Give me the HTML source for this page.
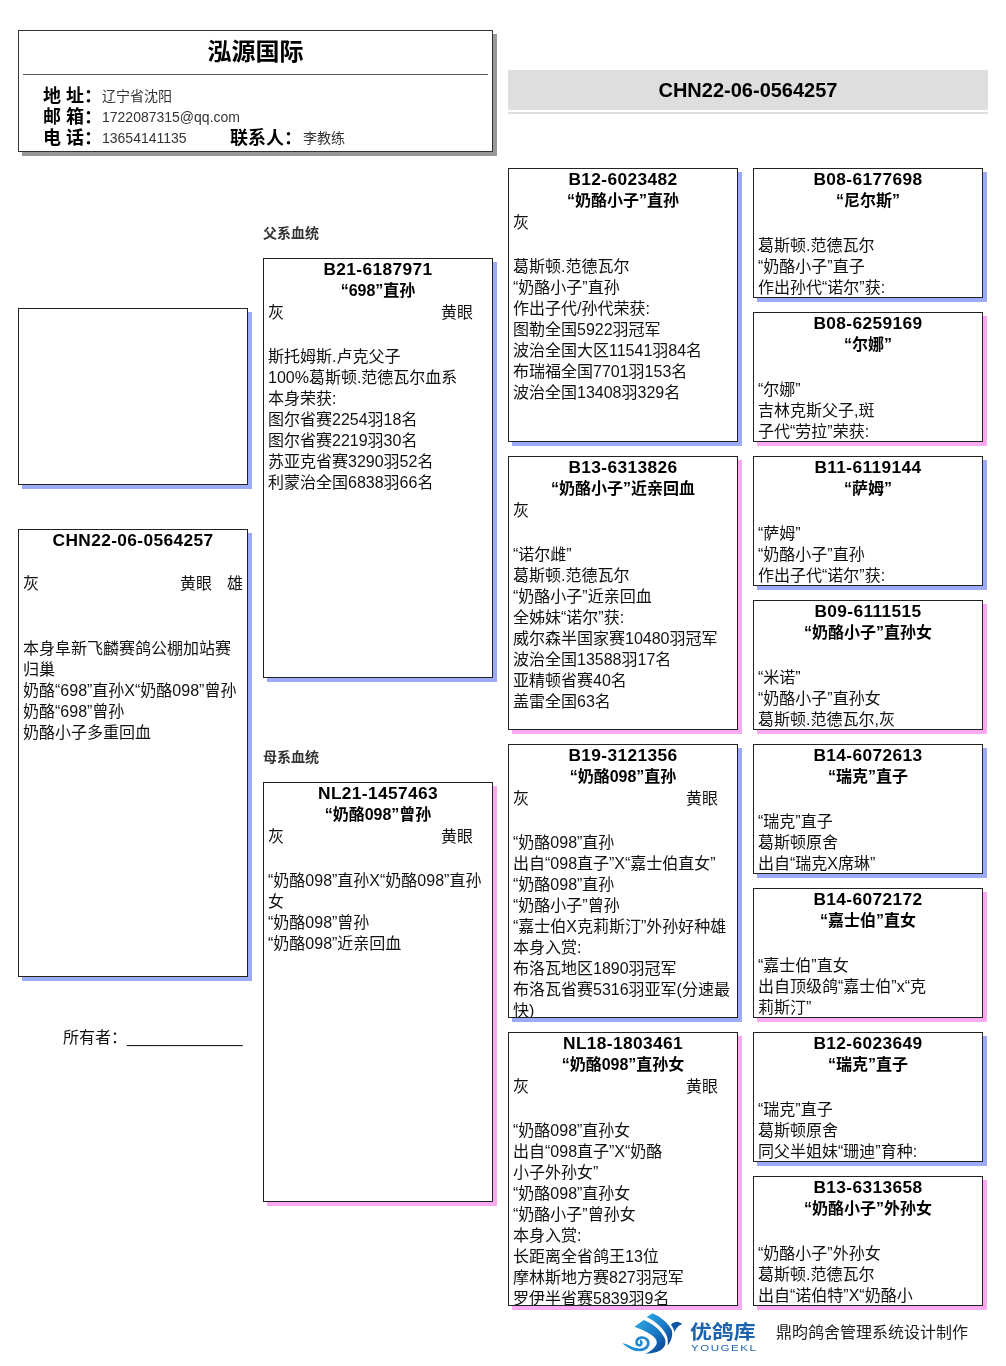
<!DOCTYPE html>
<html lang="zh-CN">
<head>
<meta charset="utf-8">
<title>CHN22-06-0564257</title>
<style>
html,body{margin:0;padding:0;background:#fff;}
body{will-change:transform;width:1006px;height:1366px;position:relative;overflow:hidden;
  font-family:"Liberation Sans","Noto Sans CJK SC",sans-serif;color:#111;font-size:16px;line-height:21px;}
.abs{position:absolute;}
/* header card */
.hdr{position:absolute;left:18px;top:30px;width:475px;height:122px;box-sizing:border-box;border:1px solid #333;background:#fff;box-shadow:4px 4px 0 #999;}
.hdr .ttl{position:absolute;left:0;right:0;top:8px;text-align:center;font-weight:bold;font-size:24px;line-height:26px;color:#000;}
.hdr .hr{position:absolute;left:4px;right:4px;top:43px;height:1px;background:#555;}
.hdr .lb{position:absolute;font-weight:bold;font-size:18px;line-height:21px;color:#000;white-space:pre;}
.hdr .vl{position:absolute;font-size:14px;line-height:21px;color:#333;white-space:pre;}
/* banner */
.ban{position:absolute;left:508px;top:70px;width:480px;height:40px;background:#dedede;text-align:center;font-weight:bold;font-size:20px;line-height:40px;color:#000;}
.banl{position:absolute;left:508px;top:112px;width:480px;height:2px;background:#dedede;}
/* pedigree boxes */
.bx{position:absolute;box-sizing:border-box;width:230px;border:1px solid #222;background:#fff;overflow:hidden;}
.m{box-shadow:4px 4px 0 #9babfa;}
.f{box-shadow:4px 4px 0 #fbaaf0;}
.c1{left:18px;} .c2{left:263px;} .c3{left:508px;} .c4{left:753px;}
.h2{height:420px;} .h3{height:274px;} .h4{height:130px;}
.bx .t{text-align:center;font-weight:bold;font-size:16px;line-height:21px;height:21px;color:#000;white-space:nowrap;}
.bx .i{font-size:17.33px;letter-spacing:0.36px;}
.bx .ce{position:relative;height:22px;line-height:24px;margin:0 4px;white-space:nowrap;}
.bx .ce .e{position:absolute;left:173px;top:0;}
.bx .b{margin:0 4px;padding-top:2px;white-space:nowrap;}
.sub{position:absolute;left:263px;font-weight:bold;font-size:14px;line-height:16px;color:#333;}
</style>
</head>
<body>

<!-- loft header -->
<div class="hdr">
  <div class="ttl">泓源国际</div>
  <div class="hr"></div>
  <div class="lb" style="left:24px;top:55px">地 址：</div><div class="vl" style="left:83px;top:55px">辽宁省沈阳</div>
  <div class="lb" style="left:24px;top:76px">邮 箱：</div><div class="vl" style="left:83px;top:76px">1722087315@qq.com</div>
  <div class="lb" style="left:24px;top:97px">电 话：</div><div class="vl" style="left:83px;top:97px">13654141135</div>
  <div class="lb" style="left:211px;top:97px">联系人：</div><div class="vl" style="left:284px;top:97px">李教练</div>
</div>

<!-- ring banner -->
<div class="ban">CHN22-06-0564257</div>
<div class="banl"></div>

<!-- column 1 -->
<div class="bx m c1" style="top:308px;height:177px"></div>

<div class="bx m c1" style="top:529px;height:448px">
  <div class="t i">CHN22-06-0564257</div>
  <div class="t">&nbsp;</div>
  <div class="ce">灰<span class="e" style="left:157px">黄眼</span><span class="e" style="left:204px">雄</span></div>
  <div class="b"><br><br>本身阜新飞麟赛鸽公棚加站赛<br>归巢<br>奶酪“698”直孙X“奶酪098”曾孙<br>奶酪“698”曾孙<br>奶酪小子多重回血</div>
</div>

<div class="abs" style="left:63px;top:1027px;white-space:pre;">所有者：_____________</div>

<!-- column 2 -->
<div class="sub" style="top:225px">父系血统</div>
<div class="bx m c2 h2" style="top:258px">
  <div class="t i">B21-6187971</div>
  <div class="t">“698”直孙</div>
  <div class="ce">灰<span class="e">黄眼</span></div>
  <div class="b"><br>斯托姆斯.卢克父子<br>100%葛斯顿.范德瓦尔血系<br>本身荣获:<br>图尔省赛2254羽18名<br>图尔省赛2219羽30名<br>苏亚克省赛3290羽52名<br>利蒙治全国6838羽66名</div>
</div>

<div class="sub" style="top:749px">母系血统</div>
<div class="bx f c2 h2" style="top:782px">
  <div class="t i">NL21-1457463</div>
  <div class="t">“奶酪098”曾孙</div>
  <div class="ce">灰<span class="e">黄眼</span></div>
  <div class="b"><br>“奶酪098”直孙X“奶酪098”直孙<br>女<br>“奶酪098”曾孙<br>“奶酪098”近亲回血</div>
</div>

<!-- column 3 -->
<div class="bx m c3 h3" style="top:168px">
  <div class="t i">B12-6023482</div>
  <div class="t">“奶酪小子”直孙</div>
  <div class="ce">灰</div>
  <div class="b"><br>葛斯顿.范德瓦尔<br>“奶酪小子”直孙<br>作出子代/孙代荣获:<br>图勒全国5922羽冠军<br>波治全国大区11541羽84名<br>布瑞福全国7701羽153名<br>波治全国13408羽329名</div>
</div>

<div class="bx f c3 h3" style="top:456px">
  <div class="t i">B13-6313826</div>
  <div class="t">“奶酪小子”近亲回血</div>
  <div class="ce">灰</div>
  <div class="b"><br>“诺尔雌”<br>葛斯顿.范德瓦尔<br>“奶酪小子”近亲回血<br>全姊妹“诺尔”获:<br>威尔森半国家赛10480羽冠军<br>波治全国13588羽17名<br>亚精顿省赛40名<br>盖雷全国63名</div>
</div>

<div class="bx m c3 h3" style="top:744px">
  <div class="t i">B19-3121356</div>
  <div class="t">“奶酪098”直孙</div>
  <div class="ce">灰<span class="e">黄眼</span></div>
  <div class="b"><br>“奶酪098”直孙<br>出自“098直子”X“嘉士伯直女”<br>“奶酪098”直孙<br>“奶酪小子”曾孙<br>“嘉士伯X克莉斯汀”外孙好种雄<br>本身入赏:<br>布洛瓦地区1890羽冠军<br>布洛瓦省赛5316羽亚军(分速最<br>快)</div>
</div>

<div class="bx f c3 h3" style="top:1032px">
  <div class="t i">NL18-1803461</div>
  <div class="t">“奶酪098”直孙女</div>
  <div class="ce">灰<span class="e">黄眼</span></div>
  <div class="b"><br>“奶酪098”直孙女<br>出自“098直子”X“奶酪<br>小子外孙女”<br>“奶酪098”直孙女<br>“奶酪小子”曾孙女<br>本身入赏:<br>长距离全省鸽王13位<br>摩林斯地方赛827羽冠军<br>罗伊半省赛5839羽9名</div>
</div>

<!-- column 4 -->
<div class="bx m c4 h4" style="top:168px">
  <div class="t i">B08-6177698</div>
  <div class="t">“尼尔斯”</div>
  <div class="ce"></div>
  <div class="b">葛斯顿.范德瓦尔<br>“奶酪小子”直子<br>作出孙代“诺尔”获:</div>
</div>
<div class="bx f c4 h4" style="top:312px">
  <div class="t i">B08-6259169</div>
  <div class="t">“尔娜”</div>
  <div class="ce"></div>
  <div class="b">“尔娜”<br>吉林克斯父子,斑<br>子代“劳拉”荣获:</div>
</div>
<div class="bx m c4 h4" style="top:456px">
  <div class="t i">B11-6119144</div>
  <div class="t">“萨姆”</div>
  <div class="ce"></div>
  <div class="b">“萨姆”<br>“奶酪小子”直孙<br>作出子代“诺尔”获:</div>
</div>
<div class="bx f c4 h4" style="top:600px">
  <div class="t i">B09-6111515</div>
  <div class="t">“奶酪小子”直孙女</div>
  <div class="ce"></div>
  <div class="b">“米诺”<br>“奶酪小子”直孙女<br>葛斯顿.范德瓦尔,灰</div>
</div>
<div class="bx m c4 h4" style="top:744px">
  <div class="t i">B14-6072613</div>
  <div class="t">“瑞克”直子</div>
  <div class="ce"></div>
  <div class="b">“瑞克”直子<br>葛斯顿原舍<br>出自“瑞克X席琳”</div>
</div>
<div class="bx f c4 h4" style="top:888px">
  <div class="t i">B14-6072172</div>
  <div class="t">“嘉士伯”直女</div>
  <div class="ce"></div>
  <div class="b">“嘉士伯”直女<br>出自顶级鸽“嘉士伯”x“克<br>莉斯汀”</div>
</div>
<div class="bx m c4 h4" style="top:1032px">
  <div class="t i">B12-6023649</div>
  <div class="t">“瑞克”直子</div>
  <div class="ce"></div>
  <div class="b">“瑞克”直子<br>葛斯顿原舍<br>同父半姐妹“珊迪”育种:</div>
</div>
<div class="bx f c4 h4" style="top:1176px">
  <div class="t i">B13-6313658</div>
  <div class="t">“奶酪小子”外孙女</div>
  <div class="ce"></div>
  <div class="b">“奶酪小子”外孙女<br>葛斯顿.范德瓦尔<br>出自“诺伯特”X“奶酪小</div>
</div>

<!-- footer -->
<svg class="abs" style="left:616px;top:1306px" width="80" height="56" viewBox="0 0 80 56">
  <defs>
    <linearGradient id="lg" x1="0.1" y1="0.1" x2="0.9" y2="0.9">
      <stop offset="0" stop-color="#2aa0dc"/>
      <stop offset="0.55" stop-color="#1878c4"/>
      <stop offset="1" stop-color="#0c4a98"/>
    </linearGradient>
  </defs>
  <g fill="url(#lg)">
    <path d="M36.6,7.2 C44.5,10.5 52.2,17 55.7,23.9 C57.2,29 55.2,35 51.7,39.4 C52.2,34.5 51.6,30.5 49.3,27 C45,20.3 38,14.6 30.6,11.1 Z"/>
    <path d="M18.3,20.7 L27.8,13.9 C36.5,17 45.5,25 48.6,32 C50.6,37 49.2,41 45,44 C40.5,46.6 35,47.6 29.4,47.7 C35,45.2 40,41 40.8,37 C41.2,31 33,26 18.3,20.7 Z"/>
    <path d="M54.9,18.7 C57,16.6 60,15.6 62,15.9 C63.6,16.2 65.1,17 66.4,17.9 C64,18.7 62.5,19.8 61.1,21.5 C60,23 59.1,24.5 58.4,25.9 C58,24 57,21 54.9,18.7 Z" fill="#0f57a6"/>
    <path d="M6.2,37.2 C10,37.6 13.5,39.5 17,41.3 L22,42.3 L21.5,45.2 C17.5,45 14.5,43.5 6.2,37.2 Z" fill="#2090d4"/>
  </g>
  <path d="M20.5,43.5 C26,44.6 31.2,42.8 32.2,38.4 C33,34 29.2,31.2 25.2,31.6 C21.6,32 19.9,35 20.6,37.5 C21.3,39.6 24.2,40 25.3,38.1 C25.9,36.6 25.1,35.3 23.9,35.1" fill="none" stroke="#1e88d0" stroke-width="2.6" stroke-linecap="butt"/>
</svg>
<div class="abs" style="left:690px;top:1321px;font-weight:bold;font-size:19px;line-height:24px;color:#1c62ad;white-space:nowrap;transform:scale(1.15,1);transform-origin:0 0;">优鸽库</div>
<div class="abs" style="left:691px;top:1343px;font-size:8.5px;line-height:10px;color:#1c62ad;letter-spacing:1.1px;white-space:nowrap;transform:scale(1.36,1);transform-origin:0 0;">YOUGEKL</div>
<div class="abs" style="left:776px;top:1322px;font-size:16px;line-height:21px;color:#222;white-space:nowrap;">鼎昀鸽舍管理系统设计制作</div>

</body>
</html>
